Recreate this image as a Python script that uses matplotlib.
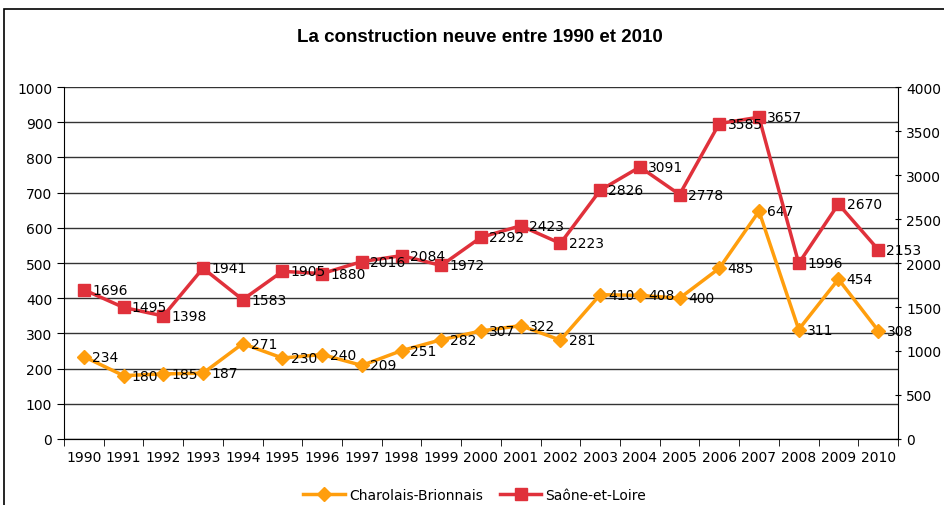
import numpy as np
import matplotlib.pyplot as plt
from matplotlib.patches import Rectangle

# données
annees = list(range(1990, 2011))
charolais = [234, 180, 185, 187, 271, 230, 240, 209, 251, 282, 307, 322, 281,
             410, 408, 400, 485, 647, 311, 454, 308]
saone = [1696, 1495, 1398, 1941, 1583, 1905, 1880, 2016, 2084, 1972, 2292, 2423,
         2223, 2826, 3091, 2778, 3585, 3657, 1996, 2670, 2153]

orange = '#FF9E0D'
rouge = '#E0313B'
police = 'DejaVu Sans'

fig = plt.figure(figsize=(9.44, 5.06), dpi=100)
fig.patches.append(Rectangle((4/944, -0.1), 1.2, 1 - 10/506 + 0.1, transform=fig.transFigure,
                             fill=False, edgecolor='black', lw=1.2))

ax = fig.add_axes([64/944, 1 - 440/506, (898-64)/944, (440-88)/506])
ax2 = ax.twinx()

x = np.arange(len(annees))
l1, = ax.plot(x, charolais, color=orange, lw=2.5, marker='D', ms=7,
              markeredgecolor=orange, label='Charolais-Brionnais', zorder=3)
l2, = ax2.plot(x, saone, color=rouge, lw=2.5, marker='s', ms=8,
               markeredgecolor=rouge, label='Saône-et-Loire', zorder=3)

for xi, v in zip(x, charolais):
    ax.annotate(str(v), (xi, v), xytext=(6, 0), textcoords='offset points',
                ha='left', va='center', fontsize=10, family=police)
for xi, v in zip(x, saone):
    ax2.annotate(str(v), (xi, v), xytext=(6, 0), textcoords='offset points',
                 ha='left', va='center', fontsize=10, family=police)

ax.set_xlim(-0.5, len(annees) - 0.5)
ax.set_ylim(0, 1000)
ax2.set_ylim(0, 4000)
ax.set_yticks(np.arange(0, 1001, 100))
ax2.set_yticks(np.arange(0, 4001, 500))
ax.set_xticks(x)
ax.set_xticklabels([str(a) for a in annees], fontsize=10, family=police)
ax.set_xticks(np.arange(-0.5, len(annees)), minor=True)
ax.tick_params(axis='x', which='major', length=0, pad=8)
ax.tick_params(axis='x', which='minor', length=5, direction='out')
ax.tick_params(axis='y', length=5, direction='out', labelsize=10)
ax2.tick_params(axis='y', length=5, direction='inout', labelsize=10)
for lab in ax.get_yticklabels() + ax2.get_yticklabels():
    lab.set_family(police)

ax.grid(axis='y', color='#333333', lw=1)
ax.set_axisbelow(True)
for a in (ax, ax2):
    a.spines['top'].set_visible(False)
ax2.spines['left'].set_visible(False)
ax.spines['right'].set_visible(False)

fig.text(0.508, 1 - 38/506, 'La construction neuve entre 1990 et 2010', ha='center',
         va='center', fontsize=13.5, fontweight='bold', family='Liberation Sans')

fig.legend(handles=[l1, l2], loc='center', bbox_to_anchor=(0.503, 1 - 496/506), ncol=2,
           frameon=False, prop={'family': police, 'size': 10}, handlelength=3,
           columnspacing=1.2, handletextpad=0.3)

fig.savefig('out.png', dpi=100)
